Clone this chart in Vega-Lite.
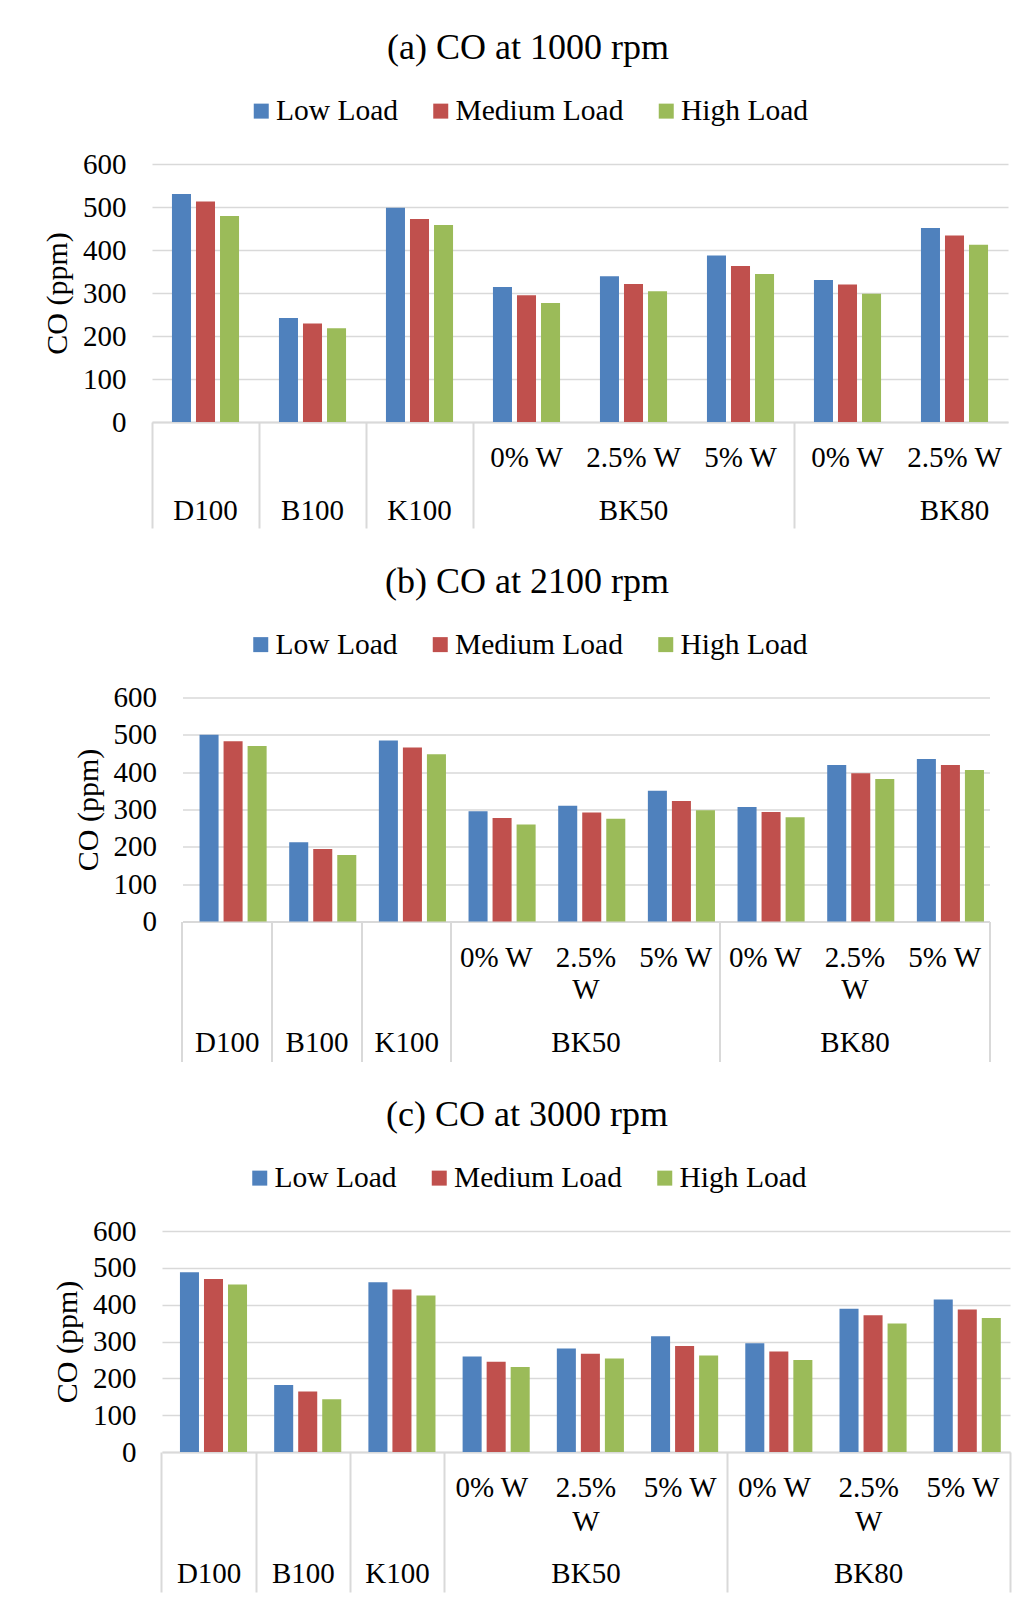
{
  "$schema": "https://vega.github.io/schema/vega-lite/v6.json",
  "background": "white",
  "padding": {"left": 42, "top": 30, "right": 0, "bottom": 0},
  "config": {
    "view": {"stroke": null},
    "font": "Liberation Serif",
    "axis": {"labelColor": "black", "titleColor": "black", "labelFont": "Liberation Serif", "titleFont": "Liberation Serif"},
    "axisY": {"values": [0,100,200,300,400,500,600], "title": "CO (ppm)", "titleFontSize": 30, "titleFontWeight": "normal", "titlePadding": 10, "labelFontSize": 29, "labelPadding": 26, "ticks": false, "domain": false, "gridColor": "#D9D9D9", "gridWidth": 1.5},
    "legend": {"labelColor": "black", "labelFont": "Liberation Serif", "labelLimit": 400},
    "title": {"color": "black", "font": "Liberation Serif", "fontWeight": "normal"}
  },
  "datasets": {
    "a": [
      {"cat": "D100", "load": "Low Load", "co": 530}, {"cat": "D100", "load": "Medium Load", "co": 513}, {"cat": "D100", "load": "High Load", "co": 479},
      {"cat": "B100", "load": "Low Load", "co": 242}, {"cat": "B100", "load": "Medium Load", "co": 229}, {"cat": "B100", "load": "High Load", "co": 218},
      {"cat": "K100", "load": "Low Load", "co": 498}, {"cat": "K100", "load": "Medium Load", "co": 472}, {"cat": "K100", "load": "High Load", "co": 458},
      {"cat": "BK50 0% W", "load": "Low Load", "co": 314}, {"cat": "BK50 0% W", "load": "Medium Load", "co": 295}, {"cat": "BK50 0% W", "load": "High Load", "co": 277},
      {"cat": "BK50 2.5% W", "load": "Low Load", "co": 339}, {"cat": "BK50 2.5% W", "load": "Medium Load", "co": 321}, {"cat": "BK50 2.5% W", "load": "High Load", "co": 304},
      {"cat": "BK50 5% W", "load": "Low Load", "co": 387}, {"cat": "BK50 5% W", "load": "Medium Load", "co": 363}, {"cat": "BK50 5% W", "load": "High Load", "co": 344},
      {"cat": "BK80 0% W", "load": "Low Load", "co": 330}, {"cat": "BK80 0% W", "load": "Medium Load", "co": 320}, {"cat": "BK80 0% W", "load": "High Load", "co": 298},
      {"cat": "BK80 2.5% W", "load": "Low Load", "co": 451}, {"cat": "BK80 2.5% W", "load": "Medium Load", "co": 434}, {"cat": "BK80 2.5% W", "load": "High Load", "co": 412}
    ],
    "b": [
      {"cat": "D100", "load": "Low Load", "co": 500}, {"cat": "D100", "load": "Medium Load", "co": 483}, {"cat": "D100", "load": "High Load", "co": 470},
      {"cat": "B100", "load": "Low Load", "co": 212}, {"cat": "B100", "load": "Medium Load", "co": 194}, {"cat": "B100", "load": "High Load", "co": 178},
      {"cat": "K100", "load": "Low Load", "co": 485}, {"cat": "K100", "load": "Medium Load", "co": 466}, {"cat": "K100", "load": "High Load", "co": 448},
      {"cat": "BK50 0% W", "load": "Low Load", "co": 295}, {"cat": "BK50 0% W", "load": "Medium Load", "co": 277}, {"cat": "BK50 0% W", "load": "High Load", "co": 260},
      {"cat": "BK50 2.5% W", "load": "Low Load", "co": 310}, {"cat": "BK50 2.5% W", "load": "Medium Load", "co": 292}, {"cat": "BK50 2.5% W", "load": "High Load", "co": 275},
      {"cat": "BK50 5% W", "load": "Low Load", "co": 350}, {"cat": "BK50 5% W", "load": "Medium Load", "co": 323}, {"cat": "BK50 5% W", "load": "High Load", "co": 298},
      {"cat": "BK80 0% W", "load": "Low Load", "co": 307}, {"cat": "BK80 0% W", "load": "Medium Load", "co": 293}, {"cat": "BK80 0% W", "load": "High Load", "co": 279},
      {"cat": "BK80 2.5% W", "load": "Low Load", "co": 419}, {"cat": "BK80 2.5% W", "load": "Medium Load", "co": 397}, {"cat": "BK80 2.5% W", "load": "High Load", "co": 382},
      {"cat": "BK80 5% W", "load": "Low Load", "co": 435}, {"cat": "BK80 5% W", "load": "Medium Load", "co": 419}, {"cat": "BK80 5% W", "load": "High Load", "co": 406}
    ],
    "c": [
      {"cat": "D100", "load": "Low Load", "co": 488}, {"cat": "D100", "load": "Medium Load", "co": 470}, {"cat": "D100", "load": "High Load", "co": 455},
      {"cat": "B100", "load": "Low Load", "co": 182}, {"cat": "B100", "load": "Medium Load", "co": 164}, {"cat": "B100", "load": "High Load", "co": 143},
      {"cat": "K100", "load": "Low Load", "co": 461}, {"cat": "K100", "load": "Medium Load", "co": 441}, {"cat": "K100", "load": "High Load", "co": 425},
      {"cat": "BK50 0% W", "load": "Low Load", "co": 259}, {"cat": "BK50 0% W", "load": "Medium Load", "co": 245}, {"cat": "BK50 0% W", "load": "High Load", "co": 231},
      {"cat": "BK50 2.5% W", "load": "Low Load", "co": 281}, {"cat": "BK50 2.5% W", "load": "Medium Load", "co": 267}, {"cat": "BK50 2.5% W", "load": "High Load", "co": 254},
      {"cat": "BK50 5% W", "load": "Low Load", "co": 314}, {"cat": "BK50 5% W", "load": "Medium Load", "co": 288}, {"cat": "BK50 5% W", "load": "High Load", "co": 262},
      {"cat": "BK80 0% W", "load": "Low Load", "co": 295}, {"cat": "BK80 0% W", "load": "Medium Load", "co": 273}, {"cat": "BK80 0% W", "load": "High Load", "co": 250},
      {"cat": "BK80 2.5% W", "load": "Low Load", "co": 389}, {"cat": "BK80 2.5% W", "load": "Medium Load", "co": 371}, {"cat": "BK80 2.5% W", "load": "High Load", "co": 349},
      {"cat": "BK80 5% W", "load": "Low Load", "co": 414}, {"cat": "BK80 5% W", "load": "Medium Load", "co": 387}, {"cat": "BK80 5% W", "load": "High Load", "co": 364}
    ]
  },
  "vconcat": [
    {
      "width": 856, "height": 258,
      "data": {"name": "a"},
      "title": {"text": "(a) CO at 1000 rpm", "fontSize": 36, "anchor": "middle", "frame": "group", "dx": -52, "offset": 29},
      "layer": [
        {
          "mark": {"type": "bar"},
          "encoding": {
            "x": {"field": "cat", "type": "nominal", "sort": ["D100","B100","K100","BK50 0% W","BK50 2.5% W","BK50 5% W","BK80 0% W","BK80 2.5% W"],
                  "scale": {"paddingInner": 0.373, "paddingOuter": 0.1865},
                  "axis": {"orient": "bottom", "title": null, "labelAngle": 0, "labelFontSize": 29, "labelBaseline": "top", "labelPadding": 21.5, "ticks": false, "domainColor": "#D9D9D9", "domainWidth": 2, "labelOverlap": false, "labelLimit": 300,
                           "labelExpr": "indexof(datum.value, ' ') > 0 ? substring(datum.value, indexof(datum.value, ' ') + 1) : ''"}},
            "xOffset": {"field": "load", "type": "nominal", "sort": ["Low Load","Medium Load","High Load"], "scale": {"paddingInner": 0.208, "paddingOuter": 0}},
            "y": {"field": "co", "type": "quantitative", "title": "CO (ppm)", "scale": {"domain": [0, 600]}},
            "color": {"field": "load", "type": "nominal", "scale": {"domain": ["Low Load","Medium Load","High Load"], "range": ["#4F81BD","#C0504D","#9BBB59"]},
                      "legend": {"orient": "none", "legendX": 94.5, "legendY": -68, "direction": "horizontal", "title": null, "symbolType": "square", "symbolSize": 225, "symbolStrokeWidth": 0, "labelFontSize": 29.5, "labelOffset": 0, "columnPadding": 27.5, "padding": 0}}
          }
        },
        {
          "mark": {"type": "bar", "opacity": 0},
          "encoding": {
            "x": {"field": "cat", "type": "nominal", "sort": ["D100","B100","K100","BK50 0% W","BK50 2.5% W","BK50 5% W","BK80 0% W","BK80 2.5% W"],
                  "axis": {"orient": "bottom", "title": null, "values": ["D100","B100","K100","BK50 0% W","BK80 0% W"], "bandPosition": -0.2974, "labels": false, "domain": false, "grid": false, "ticks": true, "tickSize": 106, "tickColor": "#D9D9D9", "tickWidth": 2}},
            "y": {"field": "co", "type": "quantitative", "title": "CO (ppm)", "stack": null, "scale": {"domain": [0, 600]}}
          }
        },
        {
          "mark": {"type": "bar", "opacity": 0},
          "encoding": {
            "x": {"field": "cat", "type": "nominal", "sort": ["D100","B100","K100","BK50 0% W","BK50 2.5% W","BK50 5% W","BK80 0% W","BK80 2.5% W"],
                  "axis": {"orient": "bottom", "title": null, "values": ["BK80 2.5% W"], "bandPosition": 1.5, "labels": false, "domain": false, "grid": false, "ticks": true, "tickSize": 10, "tickOpacity": 0, "tickWidth": 2}},
            "y": {"field": "co", "type": "quantitative", "title": "CO (ppm)", "stack": null, "scale": {"domain": [0, 600]}}
          }
        },
        {
          "mark": {"type": "bar", "opacity": 0},
          "encoding": {
            "x": {"field": "cat", "type": "nominal", "sort": ["D100","B100","K100","BK50 0% W","BK50 2.5% W","BK50 5% W","BK80 0% W","BK80 2.5% W"],
                  "axis": {"orient": "bottom", "title": null, "values": ["D100","B100","K100","BK50 2.5% W"], "labelAngle": 0, "labelFontSize": 29, "labelBaseline": "top", "labelPadding": 74.5, "ticks": false, "domain": false, "grid": false, "labelOverlap": false, "labelLimit": 300,
                           "labelExpr": "indexof(datum.value, ' ') > 0 ? substring(datum.value, 0, indexof(datum.value, ' ')) : datum.value"}},
            "y": {"field": "co", "type": "quantitative", "title": "CO (ppm)", "stack": null, "scale": {"domain": [0, 600]}}
          }
        },
        {
          "mark": {"type": "bar", "opacity": 0},
          "encoding": {
            "x": {"field": "cat", "type": "nominal", "sort": ["D100","B100","K100","BK50 0% W","BK50 2.5% W","BK50 5% W","BK80 0% W","BK80 2.5% W"],
                  "axis": {"orient": "bottom", "title": null, "values": ["BK80 2.5% W"], "bandPosition": 0.67, "labelAngle": 0, "labelFontSize": 29, "labelBaseline": "top", "labelPadding": 74.5, "ticks": false, "domain": false, "grid": false, "labelOverlap": false, "labelLimit": 300,
                           "labelExpr": "substring(datum.value, 0, indexof(datum.value, ' '))"}},
            "y": {"field": "co", "type": "quantitative", "title": "CO (ppm)", "stack": null, "scale": {"domain": [0, 600]}}
          }
        }
      ],
      "resolve": {"axis": {"x": "independent"}}
    },
    {
      "width": 807, "height": 224,
      "data": {"name": "b"},
      "title": {"text": "(b) CO at 2100 rpm", "fontSize": 36, "anchor": "middle", "frame": "group", "dx": -59, "offset": 29},
      "layer": [
        {
          "mark": {"type": "bar"},
          "encoding": {
            "x": {"field": "cat", "type": "nominal", "sort": ["D100","B100","K100","BK50 0% W","BK50 2.5% W","BK50 5% W","BK80 0% W","BK80 2.5% W","BK80 5% W"],
                  "scale": {"paddingInner": 0.38, "paddingOuter": 0.19},
                  "axis": {"orient": "bottom", "title": null, "labelAngle": 0, "labelFontSize": 29, "labelBaseline": "top", "labelLineHeight": 32.4, "labelPadding": 22, "ticks": false, "domainColor": "#D9D9D9", "domainWidth": 2, "labelOverlap": false, "labelLimit": 300,
                           "labelExpr": "(datum.value == 'BK50 2.5% W' || datum.value == 'BK80 2.5% W') ? ['2.5%', 'W'] : (indexof(datum.value, ' ') > 0 ? substring(datum.value, indexof(datum.value, ' ') + 1) : '')"}},
            "xOffset": {"field": "load", "type": "nominal", "sort": ["Low Load","Medium Load","High Load"], "scale": {"paddingInner": 0.22, "paddingOuter": 0}},
            "y": {"field": "co", "type": "quantitative", "title": "CO (ppm)", "scale": {"domain": [0, 600]}},
            "color": {"field": "load", "type": "nominal", "scale": {"domain": ["Low Load","Medium Load","High Load"], "range": ["#4F81BD","#C0504D","#9BBB59"]},
                      "legend": {"orient": "none", "legendX": 63.5, "legendY": -68, "direction": "horizontal", "title": null, "symbolType": "square", "symbolSize": 225, "symbolStrokeWidth": 0, "labelFontSize": 29.5, "labelOffset": 0, "columnPadding": 27.5, "padding": 0}}
          }
        },
        {
          "mark": {"type": "bar", "opacity": 0},
          "encoding": {
            "x": {"field": "cat", "type": "nominal", "sort": ["D100","B100","K100","BK50 0% W","BK50 2.5% W","BK50 5% W","BK80 0% W","BK80 2.5% W","BK80 5% W"],
                  "axis": {"orient": "bottom", "title": null, "values": ["D100","B100","K100","BK50 0% W","BK80 0% W"], "bandPosition": -0.3065, "labels": false, "domain": false, "grid": false, "ticks": true, "tickSize": 140, "tickColor": "#D9D9D9", "tickWidth": 2}},
            "y": {"field": "co", "type": "quantitative", "title": "CO (ppm)", "stack": null, "scale": {"domain": [0, 600]}}
          }
        },
        {
          "mark": {"type": "bar", "opacity": 0},
          "encoding": {
            "x": {"field": "cat", "type": "nominal", "sort": ["D100","B100","K100","BK50 0% W","BK50 2.5% W","BK50 5% W","BK80 0% W","BK80 2.5% W","BK80 5% W"],
                  "axis": {"orient": "bottom", "title": null, "values": ["BK80 5% W"], "bandPosition": 1.3065, "labels": false, "domain": false, "grid": false, "ticks": true, "tickSize": 140, "tickColor": "#D9D9D9", "tickWidth": 2}},
            "y": {"field": "co", "type": "quantitative", "title": "CO (ppm)", "stack": null, "scale": {"domain": [0, 600]}}
          }
        },
        {
          "mark": {"type": "bar", "opacity": 0},
          "encoding": {
            "x": {"field": "cat", "type": "nominal", "sort": ["D100","B100","K100","BK50 0% W","BK50 2.5% W","BK50 5% W","BK80 0% W","BK80 2.5% W","BK80 5% W"],
                  "axis": {"orient": "bottom", "title": null, "values": ["D100","B100","K100","BK50 2.5% W","BK80 2.5% W"], "labelAngle": 0, "labelFontSize": 29, "labelBaseline": "top", "labelPadding": 107, "ticks": false, "domain": false, "grid": false, "labelOverlap": false, "labelLimit": 300,
                           "labelExpr": "indexof(datum.value, ' ') > 0 ? substring(datum.value, 0, indexof(datum.value, ' ')) : datum.value"}},
            "y": {"field": "co", "type": "quantitative", "title": "CO (ppm)", "stack": null, "scale": {"domain": [0, 600]}}
          }
        }
      ],
      "resolve": {"axis": {"x": "independent"}}
    },
    {
      "width": 848, "height": 221,
      "data": {"name": "c"},
      "title": {"text": "(c) CO at 3000 rpm", "fontSize": 36, "anchor": "middle", "frame": "group", "dx": -59, "offset": 29},
      "layer": [
        {
          "mark": {"type": "bar"},
          "encoding": {
            "x": {"field": "cat", "type": "nominal", "sort": ["D100","B100","K100","BK50 0% W","BK50 2.5% W","BK50 5% W","BK80 0% W","BK80 2.5% W","BK80 5% W"],
                  "scale": {"paddingInner": 0.381, "paddingOuter": 0.1905},
                  "axis": {"orient": "bottom", "title": null, "labelAngle": 0, "labelFontSize": 29, "labelBaseline": "top", "labelLineHeight": 34, "labelPadding": 21, "ticks": false, "domainColor": "#D9D9D9", "domainWidth": 2, "labelOverlap": false, "labelLimit": 300,
                           "labelExpr": "(datum.value == 'BK50 2.5% W' || datum.value == 'BK80 2.5% W') ? ['2.5%', 'W'] : (indexof(datum.value, ' ') > 0 ? substring(datum.value, indexof(datum.value, ' ') + 1) : '')"}},
            "xOffset": {"field": "load", "type": "nominal", "sort": ["Low Load","Medium Load","High Load"], "scale": {"paddingInner": 0.224, "paddingOuter": 0}},
            "y": {"field": "co", "type": "quantitative", "title": "CO (ppm)", "scale": {"domain": [0, 600]}},
            "color": {"field": "load", "type": "nominal", "scale": {"domain": ["Low Load","Medium Load","High Load"], "range": ["#4F81BD","#C0504D","#9BBB59"]},
                      "legend": {"orient": "none", "legendX": 83, "legendY": -68, "direction": "horizontal", "title": null, "symbolType": "square", "symbolSize": 225, "symbolStrokeWidth": 0, "labelFontSize": 29.5, "labelOffset": 0, "columnPadding": 27.5, "padding": 0}}
          }
        },
        {
          "mark": {"type": "bar", "opacity": 0},
          "encoding": {
            "x": {"field": "cat", "type": "nominal", "sort": ["D100","B100","K100","BK50 0% W","BK50 2.5% W","BK50 5% W","BK80 0% W","BK80 2.5% W","BK80 5% W"],
                  "axis": {"orient": "bottom", "title": null, "values": ["D100","B100","K100","BK50 0% W","BK80 0% W"], "bandPosition": -0.3078, "labels": false, "domain": false, "grid": false, "ticks": true, "tickSize": 140, "tickColor": "#D9D9D9", "tickWidth": 2}},
            "y": {"field": "co", "type": "quantitative", "title": "CO (ppm)", "stack": null, "scale": {"domain": [0, 600]}}
          }
        },
        {
          "mark": {"type": "bar", "opacity": 0},
          "encoding": {
            "x": {"field": "cat", "type": "nominal", "sort": ["D100","B100","K100","BK50 0% W","BK50 2.5% W","BK50 5% W","BK80 0% W","BK80 2.5% W","BK80 5% W"],
                  "axis": {"orient": "bottom", "title": null, "values": ["BK80 5% W"], "bandPosition": 1.3078, "labels": false, "domain": false, "grid": false, "ticks": true, "tickSize": 140, "tickColor": "#D9D9D9", "tickWidth": 2}},
            "y": {"field": "co", "type": "quantitative", "title": "CO (ppm)", "stack": null, "scale": {"domain": [0, 600]}}
          }
        },
        {
          "mark": {"type": "bar", "opacity": 0},
          "encoding": {
            "x": {"field": "cat", "type": "nominal", "sort": ["D100","B100","K100","BK50 0% W","BK50 2.5% W","BK50 5% W","BK80 0% W","BK80 2.5% W","BK80 5% W"],
                  "axis": {"orient": "bottom", "title": null, "values": ["D100","B100","K100","BK50 2.5% W","BK80 2.5% W"], "labelAngle": 0, "labelFontSize": 29, "labelBaseline": "top", "labelPadding": 107, "ticks": false, "domain": false, "grid": false, "labelOverlap": false, "labelLimit": 300,
                           "labelExpr": "indexof(datum.value, ' ') > 0 ? substring(datum.value, 0, indexof(datum.value, ' ')) : datum.value"}},
            "y": {"field": "co", "type": "quantitative", "title": "CO (ppm)", "stack": null, "scale": {"domain": [0, 600]}}
          }
        }
      ],
      "resolve": {"axis": {"x": "independent"}}
    }
  ],
  "resolve": {"scale": {"color": "independent"}, "legend": {"color": "independent"}},
  "spacing": 34.5,
  "center": true
}
